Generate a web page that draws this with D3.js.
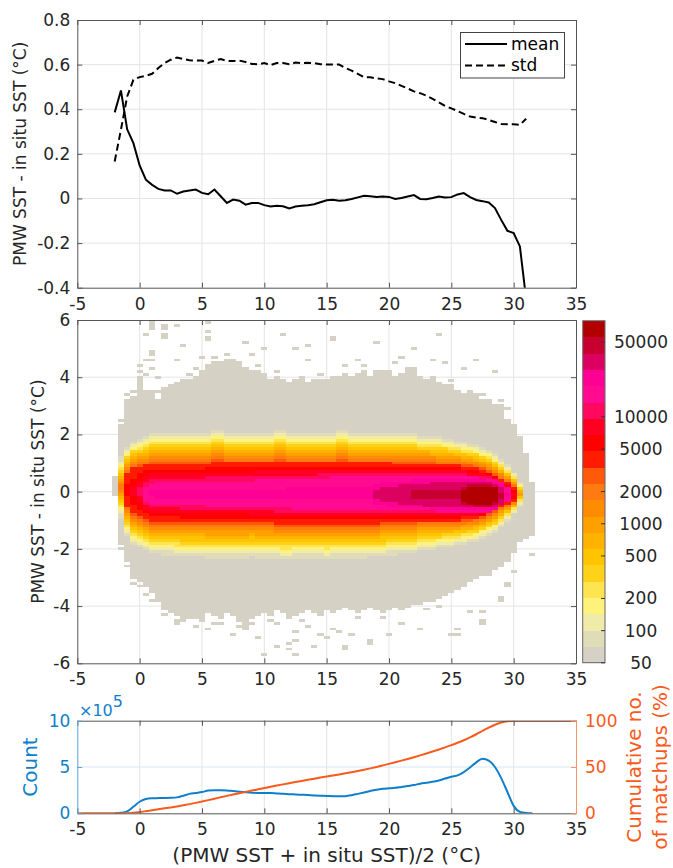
<!DOCTYPE html>
<html>
<head>
<meta charset="utf-8">
<script src="https://cdn.jsdelivr.net/npm/d3@7"></script>
<style>
  body { margin: 0; background: #fff; }
  svg { display: block; font-family: "DejaVu Sans", sans-serif; }
</style>
</head>
<body>
<svg id="chart" width="673" height="868"></svg>
<script>
// ---- data ----
const xTicks = [-5, 0, 5, 10, 15, 20, 25, 30, 35];
const topYTicks = [-0.4, -0.2, 0, 0.2, 0.4, 0.6, 0.8];
const midYTicks = [-6, -4, -2, 0, 2, 4, 6];
const cbTicks = [50, 100, 200, 500, 1000, 2000, 5000, 10000, 50000];
const countTicks = [0, 5, 10];
const cumTicks = [0, 50, 100];

// top panel: mean / std of PMW - in situ per 0.5 degC bin, x = -2 .. 31
const lineX = d3.range(-2, 31.01, 0.5);
const meanVals = [0.386, 0.484, 0.31, 0.248, 0.148, 0.084, 0.061, 0.043, 0.036, 0.036,
  0.021, 0.031, 0.036, 0.04, 0.025, 0.019, 0.04, 0.01, -0.02, -0.005,
  -0.01, -0.028, -0.02, -0.02, -0.03, -0.036, -0.033, -0.035, -0.045, -0.036,
  -0.033, -0.03, -0.026, -0.017, -0.008, -0.006, -0.01, -0.008, -0.002, 0.005,
  0.012, 0.01, 0.007, 0.009, 0.007, -0.002, 0.002, 0.009, 0.015, -0.002,
  -0.003, 0.002, 0.009, 0.004, 0.006, 0.018, 0.024, 0.006, -0.007, -0.012,
  -0.018, -0.043, -0.096, -0.145, -0.155, -0.215, -0.45];
const stdVals = [0.166, 0.308, 0.457, 0.532, 0.544, 0.55, 0.559, 0.585, 0.607, 0.622,
  0.632, 0.625, 0.62, 0.618, 0.618, 0.607, 0.617, 0.625, 0.617, 0.616,
  0.618, 0.612, 0.603, 0.602, 0.607, 0.598, 0.607, 0.607, 0.602, 0.609,
  0.607, 0.608, 0.607, 0.602, 0.6, 0.6, 0.6, 0.585, 0.573, 0.559,
  0.543, 0.543, 0.538, 0.535, 0.525, 0.517, 0.505, 0.493, 0.48, 0.472,
  0.461, 0.446, 0.431, 0.415, 0.404, 0.392, 0.379, 0.367, 0.362, 0.36,
  0.352, 0.343, 0.334, 0.333, 0.333, 0.33, 0.357];

// heat map columns (0.5 degC wide), x = -2 .. 31.5
const binX = d3.range(-2, 31.51, 0.5);
// solid grey (any matchups) region, top / bottom of each column
const grayTop = [0.5, 2.3, 3.2, 3.3, 4.0, 3.5, 3.5, 3.2, 3.6, 3.7,
  3.8, 3.9, 3.9, 4.0, 4.2, 4.3, 4.5, 4.5, 4.6, 4.6,
  4.5, 4.3, 4.2, 4.2, 4.1, 3.9, 4.0, 3.9, 3.8, 3.9,
  4.0, 3.8, 3.9, 3.9, 3.9, 4.0, 4.0, 4.1, 4.0, 4.1,
  4.2, 4.0, 4.1, 4.2, 4.2, 4.0, 4.1, 4.3, 4.2, 4.0,
  3.9, 4.0, 3.8, 3.7, 3.7, 3.5, 3.4, 3.5, 3.4, 3.2,
  3.2, 3.0, 3.0, 2.5, 2.3, 1.9, 1.3, 0.3];
const grayBot = [-0.1, -1.7, -2.4, -3.0, -3.1, -3.3, -3.5, -3.8, -4.1, -4.2,
  -4.3, -4.5, -4.4, -4.4, -4.5, -4.2, -4.3, -4.4, -4.2, -4.3,
  -4.5, -4.7, -4.4, -4.3, -4.2, -4.3, -4.1, -4.2, -4.4, -4.3,
  -4.2, -4.1, -4.2, -4.3, -4.1, -4.2, -4.1, -4.0, -4.1, -4.2,
  -4.1, -4.0, -4.1, -4.2, -4.1, -4.0, -4.1, -4.0, -3.9, -3.9,
  -3.8, -3.8, -3.7, -3.6, -3.5, -3.4, -3.3, -3.1, -3.0, -2.9,
  -2.9, -2.7, -2.6, -2.4, -2.1, -1.7, -1.6, -1.5];
// colour level at the centre of each column (index into bandColors)
const peakLevel = [0, 10, 13, 14, 15, 16, 17, 17, 17, 17,
  17, 17, 17, 17, 17, 17, 17, 17, 17, 17,
  17, 17, 17, 17, 17, 17, 17, 17, 17, 17,
  17, 17, 17, 17, 17, 17, 17, 17, 17, 17,
  17, 17, 17, 18, 18, 18, 18, 18, 19, 19,
  19, 19, 19, 19, 19, 19, 20, 20, 20, 20,
  20, 20, 19, 17, 14, 8, 0, 0];
// [x, top, bottom] of the pale-yellow edge (level 1)
const edgeLevel1 = [[-1.5, 1.2, -0.9], [-1, 1.55, -1.5], [-0.5, 1.75, -1.8], [0, 1.85, -1.95], [0.5, 1.95, -2.05],
  [1, 2.0, -2.1], [1.5, 2.0, -2.15], [2, 2.05, -2.2], [2.5, 2.05, -2.2], [3, 2.05, -2.25], [3.5, 2.05, -2.25],
  [4, 2.05, -2.25], [4.5, 2.05, -2.25], [5, 2.05, -2.25], [5.5, 2.05, -2.3], [6, 2.1, -2.3], [6.5, 2.1, -2.3],
  [7, 2.05, -2.3], [7.5, 2.05, -2.3], [8, 2.05, -2.3], [8.5, 2.05, -2.3], [9, 2.05, -2.25], [9.5, 2.05, -2.3],
  [10, 2.05, -2.3], [10.5, 2.05, -2.3], [11, 2.1, -2.3], [11.5, 2.1, -2.35], [12, 2.05, -2.35], [12.5, 2.05, -2.3],
  [13, 2.05, -2.3], [13.5, 2.05, -2.3], [14, 2.05, -2.3], [14.5, 2.05, -2.3], [15, 2.05, -2.35], [15.5, 2.05, -2.3],
  [16, 2.1, -2.3], [16.5, 2.1, -2.3], [17, 2.05, -2.3], [17.5, 2.05, -2.3], [18, 2.05, -2.3], [18.5, 2.05, -2.25],
  [19, 2.05, -2.25], [19.5, 2.05, -2.25], [20, 2.05, -2.2], [20.5, 2.0, -2.2], [21, 2.0, -2.15], [21.5, 2.0, -2.1],
  [22, 2.0, -2.1], [22.5, 1.95, -2.05], [23, 1.95, -2.0], [23.5, 1.9, -2.0], [24, 1.9, -1.95], [24.5, 1.85, -1.9],
  [25, 1.8, -1.9], [25.5, 1.75, -1.85], [26, 1.7, -1.8], [26.5, 1.65, -1.75], [27, 1.6, -1.7], [27.5, 1.5, -1.6],
  [28, 1.45, -1.5], [28.5, 1.3, -1.4], [29, 1.1, -1.2], [29.5, 0.9, -1.0], [30, 0.65, -0.75], [30.5, 0.35, -0.5]];
// [x, top, bottom] of the red edge (level 12)
const edgeLevel12 = [[-1, 0.6, -0.5], [-0.5, 0.8, -0.75], [0, 0.85, -0.85], [0.5, 0.9, -0.95],
  [1, 0.95, -1.0], [1.5, 0.95, -1.0], [2, 0.95, -1.0], [2.5, 0.95, -1.0], [3, 0.95, -1.0], [3.5, 0.95, -1.05],
  [4, 0.95, -1.05], [4.5, 0.95, -1.05], [5, 0.95, -1.05], [5.5, 0.95, -1.05], [6, 1.0, -1.05], [6.5, 1.0, -1.05],
  [7, 1.0, -1.05], [7.5, 1.0, -1.05], [8, 1.0, -1.05], [8.5, 1.0, -1.05], [9, 1.0, -1.05], [9.5, 1.0, -1.05],
  [10, 1.0, -1.05], [10.5, 1.0, -1.05], [11, 1.0, -1.1], [11.5, 1.0, -1.1], [12, 1.0, -1.1], [12.5, 1.0, -1.1],
  [13, 1.0, -1.1], [13.5, 1.0, -1.1], [14, 1.0, -1.1], [14.5, 1.0, -1.1], [15, 1.0, -1.1], [15.5, 1.0, -1.1],
  [16, 1.0, -1.1], [16.5, 1.0, -1.1], [17, 1.0, -1.1], [17.5, 1.0, -1.1], [18, 1.0, -1.1], [18.5, 1.0, -1.1],
  [19, 1.0, -1.1], [19.5, 1.0, -1.05], [20, 1.0, -1.05], [20.5, 0.95, -1.05], [21, 0.95, -1.05], [21.5, 0.95, -1.05],
  [22, 0.95, -1.05], [22.5, 0.95, -1.0], [23, 0.95, -1.0], [23.5, 0.95, -1.0], [24, 0.9, -1.0], [24.5, 0.9, -1.0],
  [25, 0.9, -1.0], [25.5, 0.9, -1.0], [26, 0.85, -0.95], [26.5, 0.85, -0.95], [27, 0.8, -0.9], [27.5, 0.75, -0.85],
  [28, 0.65, -0.75], [28.5, 0.55, -0.65], [29, 0.42, -0.5], [29.5, 0.3, -0.4], [30, 0.15, -0.3]];
// [x, top, bottom] of the pink edge (level 16)
const edgeLevel16 = [[0.5, 0.15, -0.3], [1, 0.25, -0.4], [1.5, 0.3, -0.45], [2, 0.3, -0.45], [2.5, 0.3, -0.45],
  [3, 0.3, -0.45], [3.5, 0.3, -0.45], [4, 0.3, -0.45], [4.5, 0.3, -0.47], [5, 0.32, -0.47], [5.5, 0.35, -0.5],
  [6, 0.35, -0.5], [6.5, 0.35, -0.5], [7, 0.35, -0.5], [7.5, 0.35, -0.52], [8, 0.38, -0.52], [8.5, 0.38, -0.52],
  [9, 0.38, -0.55], [9.5, 0.4, -0.55], [10, 0.4, -0.55], [10.5, 0.42, -0.55], [11, 0.42, -0.58], [11.5, 0.42, -0.58],
  [12, 0.45, -0.58], [12.5, 0.45, -0.6], [13, 0.45, -0.6], [13.5, 0.45, -0.6], [14, 0.45, -0.6], [14.5, 0.48, -0.6],
  [15, 0.48, -0.62], [15.5, 0.5, -0.62], [16, 0.5, -0.62], [16.5, 0.5, -0.62], [17, 0.5, -0.62], [17.5, 0.5, -0.65],
  [18, 0.52, -0.65], [18.5, 0.52, -0.65], [19, 0.52, -0.65], [19.5, 0.52, -0.65], [20, 0.52, -0.65], [20.5, 0.52, -0.65],
  [21, 0.52, -0.65], [21.5, 0.52, -0.65], [22, 0.55, -0.68], [22.5, 0.55, -0.68], [23, 0.55, -0.68], [23.5, 0.55, -0.68],
  [24, 0.55, -0.7], [24.5, 0.55, -0.7], [25, 0.55, -0.7], [25.5, 0.55, -0.7], [26, 0.55, -0.7], [26.5, 0.5, -0.7],
  [27, 0.5, -0.7], [27.5, 0.48, -0.7], [28, 0.45, -0.7], [28.5, 0.4, -0.65], [29, 0.3, -0.55], [29.5, 0.15, -0.35]];
// [x, top, bottom] of the crimson edge (level 18)
const edgeLevel18 = [[19, 0.05, -0.2], [19.5, 0.1, -0.3], [20, 0.15, -0.35], [20.5, 0.18, -0.38], [21, 0.2, -0.4],
  [21.5, 0.22, -0.42], [22, 0.25, -0.45], [22.5, 0.25, -0.48], [23, 0.28, -0.5], [23.5, 0.3, -0.52], [24, 0.3, -0.52],
  [24.5, 0.3, -0.52], [25, 0.32, -0.55], [25.5, 0.32, -0.55], [26, 0.32, -0.55], [26.5, 0.35, -0.58], [27, 0.35, -0.58],
  [27.5, 0.35, -0.58], [28, 0.32, -0.58], [28.5, 0.28, -0.55], [29, 0.15, -0.42]];
// [x, top, bottom] of the dark red core (level 20)
const edgeLevel20 = [[26, 0.05, -0.3], [26.5, 0.15, -0.4], [27, 0.18, -0.42], [27.5, 0.18, -0.42],
  [28, 0.15, -0.42], [28.5, 0.1, -0.35]];
// isolated grey cells outside the solid region [x, y]
const sparseCells = [[1, 5.9], [1, 5.8], [1, 5.7], [2, 5.8], [2, 5.7], [3, 5.8], [5.5, 5.9], [5.5, 5.6], [5.5, 5.4],
  [5.5, 5.3], [0.5, 5.5], [2, 5.5], [2, 5.4], [1, 4.9], [1, 4.8], [3.5, 5.1], [3, 4.6], [5, 4.7], [0.5, 4.6],
  [1, 4.6], [0, 4.4], [1, 4.3], [5.5, 4.4], [6, 4.7], [11.5, 5.5], [10, 5.0], [12.5, 5.0], [15.5, 5.4], [15.5, 5.3],
  [19, 5.2], [24, 5.5], [22, 5.0], [17.5, 4.6], [21, 4.7], [27, 4.6], [24.5, 4.5], [28.5, 4.2], [26, 4.3],
  [23.5, 4.6], [8.5, 5.2], [13.5, 4.6], [9, 4.8], [16.5, 4.4], [13.5, 5.1], [22, 4.3], [19, 4.2], [20.5, 4.5],
  [29, 3.2], [29.5, 2.9], [-1.5, 2.5], [-1, 3.4], [-0.5, 3.5], [0, 4.2], [0.5, 4.1], [1.5, 3.5], [1.5, 4.0],
  [4, 4.1], [4.5, 4.3], [7, 4.8], [9.5, 4.4], [11, 4.2], [14.5, 4.1], [18, 4.4], [25, 3.9], [27.5, 3.4],
  [3, -4.5], [3, -4.6], [4.5, -4.7], [5.5, -4.8], [6.5, -4.6], [7.5, -5.0], [8.5, -4.8], [9.5, -5.1], [10, -5.7],
  [11, -4.6], [11, -5.4], [12, -5.3], [12, -5.5], [12.5, -5.2], [12.5, -5.7], [12.5, -4.9], [13.5, -4.7],
  [14, -5.4], [14.5, -5.0], [15, -5.1], [15.5, -4.8], [16, -4.9], [16.5, -5.4], [17, -5.0], [18.5, -5.3],
  [20, -5.0], [22.5, -4.8], [25, -5.0], [25.5, -4.8], [27.5, -4.5], [26.5, -4.2], [29, -3.7], [29.5, -3.2],
  [8, -4.7], [10.5, -4.5], [16.5, -5.5], [18.5, -5.2], [21, -4.6], [25.5, -5.0], [27.5, -4.6], [27.5, -4.2],
  [29, -3.8], [29.5, -3.3], [30, -2.8], [31.5, -2.2], [-1.5, -1.8], [-1.5, -2.0], [-1, -2.6], [-0.5, -3.2],
  [0, -3.3], [0.5, -3.6], [1, -3.8], [2, -4.3], [6, -4.6], [9, -4.6], [13, -4.5], [17.5, -4.4], [19.5, -4.4],
  [23, -4.1], [24, -4.0]];
// 21 colour bands of the colour bar, from 10^1.7 to 10^4.9
const bandColors = ["#d5d1c4", "#e0dcb8", "#f1ebaa", "#fff27a", "#ffe452", "#ffd21a", "#ffc400",
  "#ffb300", "#ff9f00", "#ff8c00", "#ff7a10", "#ff5a0a", "#ff1c00", "#ff0000", "#ff0022",
  "#ff0860", "#ff0a90", "#ff0095", "#dc0060", "#c8002f", "#b20000"];

// bottom panel: matchup count per bin (x 1e5), x = -2 .. 31.5
const countVals = [0, 0.05, 0.2, 0.7, 1.25, 1.55, 1.62, 1.64, 1.65, 1.67,
  1.72, 1.9, 2.1, 2.2, 2.3, 2.45, 2.5, 2.5, 2.47, 2.4,
  2.33, 2.27, 2.22, 2.2, 2.2, 2.2, 2.15, 2.1, 2.07, 2.03,
  2.0, 1.97, 1.93, 1.9, 1.88, 1.85, 1.83, 1.85, 1.95, 2.1,
  2.25, 2.4, 2.55, 2.65, 2.7, 2.75, 2.85, 2.95, 3.05, 3.2,
  3.3, 3.4, 3.55, 3.75, 3.95, 4.1, 4.45, 4.95, 5.5, 5.9,
  5.7, 5.0, 3.8, 2.3, 0.8, 0.15, 0.03, 0.0];

// ---- layout ----
const svg = d3.select('#chart');
const X0 = 77.3, X1 = 576;
const P1 = { top: 20, bottom: 287.7 };
const P2 = { top: 320, bottom: 663.3 };
const P3 = { top: 720.7, bottom: 813.3 };
const FS = 17, LFS = 20;
const BLUE = '#0f7fcb', ORANGE = '#f95a1c';

const x = d3.scaleLinear().domain([-5, 35]).range([X0, X1]);
const yTop = d3.scaleLinear().domain([-0.4, 0.8]).range([P1.bottom, P1.top]);
const yMid = d3.scaleLinear().domain([-6, 6]).range([P2.bottom, P2.top]);
const yCnt = d3.scaleLinear().domain([0, 10]).range([P3.bottom, P3.top]);
const yCum = d3.scaleLinear().domain([0, 100]).range([P3.bottom, P3.top]);
const cb = d3.scaleLog().domain([Math.pow(10, 1.7), Math.pow(10, 4.9)]).range([662.7, 320.7]);

const defs = svg.append('defs');
[['clipTop', P1], ['clipMid', P2], ['clipBot', P3]].forEach(([id, p]) => {
  defs.append('clipPath').attr('id', id).append('rect')
    .attr('x', X0).attr('y', p.top).attr('width', X1 - X0).attr('height', p.bottom - p.top);
});

function drawGrid(yScale, yTicks, p, hColor) {
  const g = svg.append('g');
  g.selectAll('line.gv').data(xTicks.slice(1, -1)).join('line').attr('class', 'gv')
    .attr('x1', d => x(d)).attr('x2', d => x(d)).attr('y1', p.top).attr('y2', p.bottom)
    .attr('stroke', '#e4e4e4');
  g.selectAll('line.gh').data(yTicks.slice(1, -1)).join('line').attr('class', 'gh')
    .attr('x1', X0).attr('x2', X1).attr('y1', d => yScale(d)).attr('y2', d => yScale(d))
    .attr('stroke', hColor || '#e4e4e4');
}

function styleAxis(g, color, textColor) {
  g.attr('font-family', null).attr('font-size', FS).attr('color', color);
  g.selectAll('text').attr('fill', textColor);
}

function drawXAxes(p, labels) {
  const gb = svg.append('g').attr('transform', `translate(0,${p.bottom})`)
    .call(d3.axisBottom(x).tickValues(xTicks).tickSizeInner(-5).tickSizeOuter(0).tickPadding(10)
      .tickFormat(d => labels ? String(d) : ''));
  const gt = svg.append('g').attr('transform', `translate(0,${p.top})`)
    .call(d3.axisTop(x).tickValues(xTicks).tickSizeInner(-5).tickSizeOuter(0).tickFormat(''));
  styleAxis(gb, '#555', '#262626');
  styleAxis(gt, '#555', '#262626');
}

function drawYAxis(scale, ticks, side, color, textColor, fmt) {
  const ax = side === 'left' ? d3.axisLeft(scale) : d3.axisRight(scale);
  ax.tickValues(ticks).tickSizeInner(-5).tickSizeOuter(0).tickPadding(side === 'left' ? 7 : 9)
    .tickFormat(fmt || (() => ''));
  const g = svg.append('g').attr('transform', `translate(${side === 'left' ? X0 : X1},0)`).call(ax);
  styleAxis(g, color, textColor);
}

function yLabel(text, cx, cy, color, size) {
  svg.append('text').attr('transform', `translate(${cx},${cy}) rotate(-90)`)
    .attr('text-anchor', 'middle').attr('dy', '0.35em').attr('font-size', size || FS)
    .attr('fill', color || '#262626').text(text);
}

// ---- top panel ----
drawGrid(yTop, topYTicks, P1);
const gLines = svg.append('g').attr('clip-path', 'url(#clipTop)');
const lineGen = d3.line().x((d, i) => x(lineX[i])).y(d => yTop(d));
gLines.append('path').attr('d', lineGen(stdVals)).attr('fill', 'none')
  .attr('stroke', '#000').attr('stroke-width', 2).attr('stroke-dasharray', '7,4');
gLines.append('path').attr('d', lineGen(meanVals)).attr('fill', 'none')
  .attr('stroke', '#000').attr('stroke-width', 2);
drawXAxes(P1, true);
drawYAxis(yTop, topYTicks, 'left', '#555', '#262626', d => String(d));
drawYAxis(yTop, topYTicks, 'right', '#555', '#262626');
yLabel('PMW SST - in situ SST (°C)', 20, (P1.top + P1.bottom) / 2);

// legend
const lg = svg.append('g');
lg.append('rect').attr('x', 460.5).attr('y', 32.5).attr('width', 104).attr('height', 45.5)
  .attr('fill', '#fff').attr('stroke', '#444');
lg.append('line').attr('x1', 465).attr('x2', 507).attr('y1', 44).attr('y2', 44)
  .attr('stroke', '#000').attr('stroke-width', 2);
lg.append('line').attr('x1', 465).attr('x2', 507).attr('y1', 65.5).attr('y2', 65.5)
  .attr('stroke', '#000').attr('stroke-width', 2).attr('stroke-dasharray', '7,4');
lg.append('text').attr('x', 511).attr('y', 44).attr('dy', '0.35em').attr('font-size', FS)
  .attr('fill', '#000').text('mean');
lg.append('text').attr('x', 511).attr('y', 65.5).attr('dy', '0.35em').attr('font-size', FS)
  .attr('fill', '#000').text('std');

// ---- middle panel: 2-D histogram ----
drawGrid(yMid, midYTicks, P2);

const keyX = v => Math.round(v * 2);
const edgeMaps = [[1, edgeLevel1], [12, edgeLevel12], [16, edgeLevel16], [18, edgeLevel18], [20, edgeLevel20]]
  .map(([lev, arr]) => [lev, new Map(arr.map(d => [keyX(d[0]), d]))]);
const sparseSet = new Set(sparseCells.map(d => `${keyX(d[0])}_${Math.round(d[1] * 10)}`));

function coreLevel(i, y) {
  const kx = keyX(binX[i]);
  const anchors = edgeMaps.filter(([, m]) => m.has(kx))
    .map(([lev, m]) => ({ lev, t: m.get(kx)[1], b: m.get(kx)[2] }));
  if (!anchors.length) return -1;
  const inner = anchors[anchors.length - 1];
  const mid = (inner.t + inner.b) / 2;
  const pts = anchors.map(a => [Math.abs((y >= mid ? a.t : a.b) - mid), a.lev]);
  pts.push([0, Math.max(peakLevel[i], inner.lev) + 0.5]);
  const dist = Math.abs(y - mid);
  if (dist > pts[0][0] + 1e-9) return -1;
  for (let n = 0; n < pts.length - 1; n++) {
    const [da, la] = pts[n], [db, lb] = pts[n + 1];
    if (dist <= da + 1e-9 && dist >= db) {
      const v = la + (lb - la) * (da - dist) / (da - db);
      return Math.min(20, Math.floor(v + 1e-9));
    }
  }
  return Math.min(20, Math.floor(peakLevel[i] + 0.5));
}

const cells = [];
binX.forEach((bx, i) => {
  for (let j = -60; j <= 60; j++) {
    const y = j / 10;
    let k = coreLevel(i, y);
    if (k < 0 && y <= grayTop[i] + 1e-9 && y >= grayBot[i] - 1e-9) k = 0;
    if (k < 0 && sparseSet.has(`${keyX(bx)}_${j}`)) k = 0;
    if (k >= 0) cells.push({ x: bx, y, k });
  }
});

svg.append('g').attr('clip-path', 'url(#clipMid)').attr('shape-rendering', 'crispEdges')
  .selectAll('rect').data(cells).join('rect')
  .attr('x', d => Math.round(x(d.x - 0.25)))
  .attr('width', d => Math.round(x(d.x + 0.25)) - Math.round(x(d.x - 0.25)))
  .attr('y', d => Math.round(yMid(d.y + 0.05)))
  .attr('height', d => Math.round(yMid(d.y - 0.05)) - Math.round(yMid(d.y + 0.05)))
  .attr('fill', d => bandColors[d.k]);

drawXAxes(P2, true);
drawYAxis(yMid, midYTicks, 'left', '#555', '#262626', d => String(d));
drawYAxis(yMid, midYTicks, 'right', '#555', '#262626');
yLabel('PMW SST - in situ SST (°C)', 38, (P2.top + P2.bottom) / 2);

// colour bar
const CB0 = 582.7, CB1 = 605;
const bandEdges = d3.range(bandColors.length + 1).map(k => Math.pow(10, 1.7 + k * 3.2 / bandColors.length));
svg.append('g').attr('shape-rendering', 'crispEdges').selectAll('rect').data(bandColors).join('rect')
  .attr('x', CB0).attr('width', CB1 - CB0)
  .attr('y', (c, k) => cb(bandEdges[k + 1]))
  .attr('height', (c, k) => cb(bandEdges[k]) - cb(bandEdges[k + 1]) + 0.5)
  .attr('fill', c => c);
svg.append('rect').attr('x', CB0).attr('y', cb.range()[1]).attr('width', CB1 - CB0)
  .attr('height', cb.range()[0] - cb.range()[1]).attr('fill', 'none').attr('stroke', '#666');
svg.append('g').selectAll('line').data(cbTicks).join('line')
  .attr('x1', CB1 - 4).attr('x2', CB1).attr('y1', d => cb(d)).attr('y2', d => cb(d))
  .attr('stroke', '#333');
svg.append('g').selectAll('text').data(cbTicks).join('text')
  .attr('x', 641).attr('y', d => cb(d)).attr('dy', '0.35em').attr('text-anchor', 'middle')
  .attr('font-size', FS).attr('fill', '#262626').text(d => String(d));

// ---- bottom panel: counts and cumulative ----
drawGrid(yCnt, countTicks, P3, '#d6e8f5');
const total = d3.sum(countVals);
const cumVals = Array.from(d3.cumsum(countVals), v => v / total * 100);
const cumPts = [[-5, 0]].concat(binX.map((bx, i) => [bx, cumVals[i]]), [[35, 100]]);
const gB = svg.append('g').attr('clip-path', 'url(#clipBot)');
gB.append('path').datum(countVals)
  .attr('d', d3.line().x((d, i) => x(binX[i])).y(d => yCnt(d)).curve(d3.curveMonotoneX))
  .attr('fill', 'none').attr('stroke', BLUE).attr('stroke-width', 2);
gB.append('path').datum(cumPts)
  .attr('d', d3.line().x(d => x(d[0])).y(d => yCum(d[1])).curve(d3.curveMonotoneX))
  .attr('fill', 'none').attr('stroke', ORANGE).attr('stroke-width', 2);

drawXAxes(P3, true);
drawYAxis(yCnt, countTicks, 'left', '#5aa5dc', BLUE, d => String(d));
drawYAxis(yCum, cumTicks, 'right', '#f99468', ORANGE, d => String(d));

yLabel('Count', 30, (P3.top + P3.bottom) / 2, BLUE, LFS);
const mult = svg.append('text').attr('x', 79).attr('y', 716).attr('font-size', 16).attr('fill', BLUE);
mult.append('tspan').text('×10');
mult.append('tspan').attr('dy', -9).attr('font-size', 16).text('5');

const rl = svg.append('text').attr('transform', `translate(647,${(P3.top + P3.bottom) / 2}) rotate(-90)`)
  .attr('text-anchor', 'middle').attr('font-size', LFS).attr('fill', ORANGE);
rl.append('tspan').attr('x', 0).attr('dy', '-0.3em').text('Cumulative no.');
rl.append('tspan').attr('x', 0).attr('dy', '1.3em').text('of matchups (%)');

svg.append('text').attr('x', (X0 + X1) / 2).attr('y', 862).attr('text-anchor', 'middle')
  .attr('font-size', LFS).attr('fill', '#262626').text('(PMW SST + in situ SST)/2 (°C)');
</script>
</body>
</html>
